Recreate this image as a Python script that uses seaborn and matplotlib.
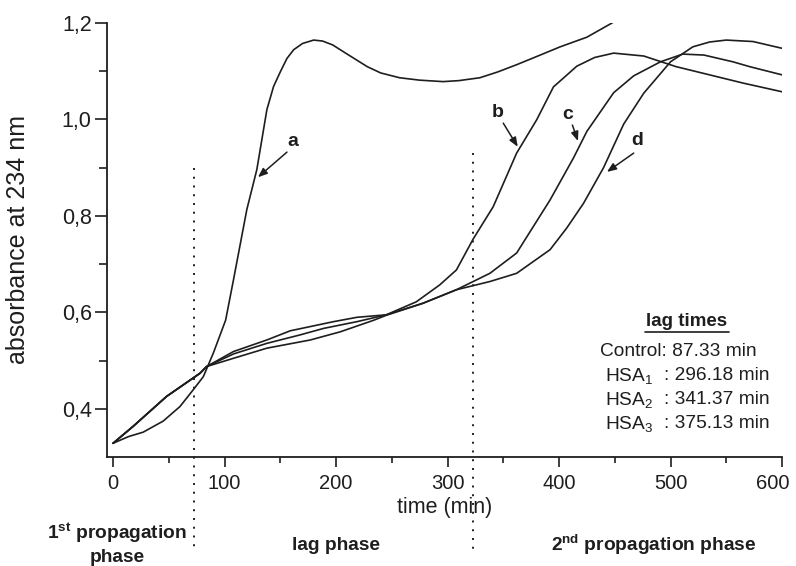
import numpy as np
import pandas as pd
import matplotlib
matplotlib.use("Agg")
import matplotlib.pyplot as plt
import matplotlib.transforms as mtransforms
import seaborn as sns

# ---------------- data ----------------
t_control = [0, 14, 27, 45, 60, 72, 81, 90, 101, 108, 120, 129, 138, 144, 150, 156, 162, 170,
             180, 188, 197, 210, 228, 240, 257, 275, 296, 310, 329, 345, 362, 380, 401, 425, 448]
v_control = [0.329, 0.343, 0.352, 0.375, 0.405, 0.440, 0.467, 0.516, 0.584, 0.667, 0.813,
             0.896, 1.020, 1.068, 1.098, 1.126, 1.144, 1.157, 1.164, 1.162, 1.154, 1.135,
             1.109, 1.096, 1.086, 1.081, 1.078, 1.080, 1.086, 1.098, 1.113, 1.130,
             1.150, 1.170, 1.200]

t_hsa1 = [0, 18, 48, 78, 84, 108, 138, 159, 198, 219, 245, 272, 293, 308, 323, 341, 362,
          380, 395, 416, 432, 449, 476, 505, 535, 565, 600]
v_hsa1 = [0.329, 0.364, 0.426, 0.474, 0.488, 0.519, 0.543, 0.562, 0.581, 0.590, 0.595,
          0.622, 0.657, 0.688, 0.752, 0.819, 0.930, 0.999, 1.067, 1.110, 1.128, 1.137, 1.131,
          1.109, 1.092, 1.075, 1.057]

t_hsa2 = [0, 18, 48, 78, 84, 108, 138, 167, 189, 219, 245, 278, 308, 338, 362, 392, 413,
          425, 449, 467, 491, 511, 530, 556, 571, 600]
v_hsa2 = [0.329, 0.364, 0.426, 0.474, 0.488, 0.514, 0.536, 0.553, 0.567, 0.581, 0.595,
          0.619, 0.647, 0.681, 0.723, 0.833, 0.920, 0.975, 1.055, 1.090, 1.119, 1.135,
          1.133, 1.119, 1.109, 1.092]

t_hsa3 = [0, 18, 48, 78, 84, 108, 138, 177, 204, 234, 245, 278, 308, 338, 362, 392, 407,
          422, 440, 458, 476, 500, 520, 535, 550, 574, 600]
v_hsa3 = [0.329, 0.364, 0.426, 0.474, 0.488, 0.505, 0.526, 0.543, 0.560, 0.584, 0.594,
          0.619, 0.647, 0.664, 0.681, 0.730, 0.775, 0.826, 0.900, 0.990, 1.054, 1.119,
          1.150, 1.160, 1.164, 1.161, 1.147]

series_names = ["a", "b", "c", "d"]

x_ticks = [0, 100, 200, 300, 400, 500, 600]
y_ticks = [0.4, 0.6, 0.8, 1.0, 1.2]
y_tick_labels = ["0,4", "0,6", "0,8", "1,0", "1,2"]

phase_bounds = [72.6, 323]
phase_tops = [0.90, 0.93]

lag_names = ["Control", "HSA$_1$", "HSA$_2$", "HSA$_3$"]
lag_values = ["87.33 min", "296.18 min", "341.37 min", "375.13 min"]

# curve label: (text pos), (arrow tail), (arrow head) in data units
label_text = {"a": (161, 0.953), "b": (345, 1.015), "c": (408, 1.009), "d": (470, 0.957)}
label_tail = {"a": (156, 0.932), "b": (350, 0.992), "c": (412, 0.988), "d": (467, 0.930)}
label_head = {"a": (130, 0.880), "b": (363, 0.943), "c": (417, 0.955), "d": (443, 0.891)}

# ---------------- build frame ----------------
frames = []
for name, t, v in zip(series_names, [t_control, t_hsa1, t_hsa2, t_hsa3],
                      [v_control, v_hsa1, v_hsa2, v_hsa3]):
    frames.append(pd.DataFrame({"time": t, "absorbance": v, "series": name}))
df = pd.concat(frames, ignore_index=True)

# ---------------- style ----------------
sns.set_style("ticks")
plt.rcParams["font.family"] = ["Liberation Sans", "DejaVu Sans"]
plt.rcParams["mathtext.fontset"] = "custom"
plt.rcParams["mathtext.rm"] = "Liberation Sans"
plt.rcParams["mathtext.it"] = "Liberation Sans:italic"
plt.rcParams["mathtext.bf"] = "Liberation Sans:bold"

ink = "#1e1e1e"
W, H = 796, 566
fig = plt.figure(figsize=(W / 100, H / 100), dpi=100)
ax = fig.add_axes([107 / W, 1 - 457.3 / H, (782 - 107) / W, (457.3 - 22.7) / H])

sns.lineplot(data=df, x="time", y="absorbance", hue="series", units="series",
             estimator=None, sort=False, palette=[ink] * 4, linewidth=1.2,
             legend=False, ax=ax)

ax.set_xlim(-5.4, 600)
ax.set_ylim(0.30, 1.2)
ax.set_xticks(x_ticks)
ax.set_xticklabels([str(x) for x in x_ticks])
ax.set_yticks(y_ticks)
ax.set_yticklabels(y_tick_labels)
ax.set_xticks(np.arange(50, 600, 100), minor=True)
ax.set_yticks([0.5, 0.7, 0.9, 1.1], minor=True)
ax.tick_params(axis="x", which="major", direction="out", length=7, width=1.2,
               labelsize=14.5, colors=ink, pad=5)
ax.tick_params(axis="x", which="minor", direction="out", length=4, width=1.2, colors=ink)
ax.tick_params(axis="y", which="major", direction="out", length=9, width=1.2,
               labelsize=15.5, colors=ink, pad=2)
ax.tick_params(axis="y", which="minor", direction="out", length=5.5, width=1.2, colors=ink)
for s in ["top", "right"]:
    ax.spines[s].set_visible(False)
for s in ["left", "bottom"]:
    ax.spines[s].set_linewidth(1.3)
    ax.spines[s].set_color(ink)

# nudge last x tick label inside the figure (as in the reference)
lbls = ax.get_xticklabels()
lbls[-1].set_transform(lbls[-1].get_transform() +
                       mtransforms.ScaledTranslation(-9 / 100, 0, fig.dpi_scale_trans))

ax.set_xlabel("time (min)", fontsize=15.5, color=ink)
ax.xaxis.label.set_va("center")
ax.xaxis.set_label_coords(0.5, (457.3 - 507) / 434.6)
ax.set_ylabel("absorbance at 234 nm", fontsize=18, color=ink)
ax.yaxis.label.set_va("center")
ax.yaxis.set_label_coords((18 - 107) / 675, 0.5)

# phase boundaries (dotted, extending below the axis)
for xb, top in zip(phase_bounds, phase_tops):
    ax.plot([xb, xb], [top, 0.104], color=ink, linestyle=(0, (1, 3.5)), linewidth=1.4,
            clip_on=False)

# curve labels with arrows
for name in series_names:
    ax.text(*label_text[name], name, fontsize=14, fontweight="bold", color=ink,
            ha="center", va="center")
    ax.annotate("", xy=label_head[name], xytext=label_tail[name],
                arrowprops=dict(arrowstyle="-|>,head_length=0.55,head_width=0.22",
                                color=ink, lw=1.1, shrinkA=0, shrinkB=0))

# phase names below axis
def fx(px):
    return px / W

def fy(py):
    return 1 - py / H

fig.text(fx(117), fy(533), "1$^{\\mathbf{st}}$ propagation", fontsize=13.8, fontweight="bold",
         ha="center", va="center", color=ink)
fig.text(fx(117), fy(557), "phase", fontsize=13.8, fontweight="bold",
         ha="center", va="center", color=ink)
fig.text(fx(336), fy(545), "lag phase", fontsize=13.8, fontweight="bold",
         ha="center", va="center", color=ink)
fig.text(fx(654), fy(545), "2$^{\\mathbf{nd}}$ propagation phase", fontsize=13.8,
         fontweight="bold", ha="center", va="center", color=ink)

# lag times box
fig.text(fx(687), fy(322), "lag times", fontsize=13.5, fontweight="bold",
         ha="center", va="center", color=ink)
fig.add_artist(plt.Line2D([fx(645), fx(729)], [fy(332), fy(332)], color=ink, lw=1.2))
line_y = [352, 376, 400, 424]
for i, (nm, val) in enumerate(zip(lag_names, lag_values)):
    if i == 0:
        fig.text(fx(600), fy(line_y[i]), nm + ": " + val, fontsize=13.8,
                 ha="left", va="center", color=ink)
    else:
        fig.text(fx(605), fy(line_y[i]), nm, fontsize=13.8, ha="left", va="center", color=ink)
        fig.text(fx(664), fy(line_y[i]), ": " + val, fontsize=13.8, ha="left",
                 va="center", color=ink)

fig.savefig("out.png", dpi=100)
